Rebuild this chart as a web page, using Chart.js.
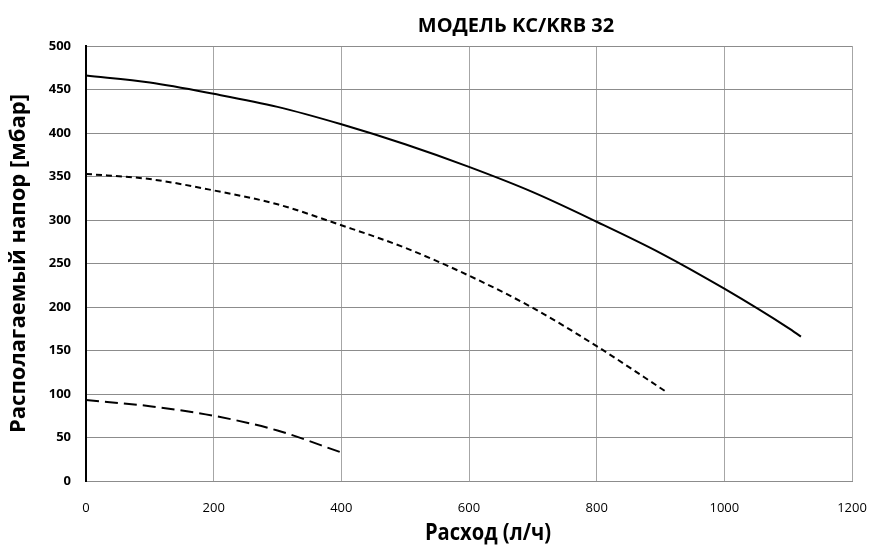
<!DOCTYPE html>
<html><head><meta charset="utf-8">
<script src="https://cdn.jsdelivr.net/npm/chart.js@4/dist/chart.umd.min.js"></script>
<style>
html,body{margin:0;padding:0;background:#fff;}
#wrap{position:relative;width:875px;height:548px;}
#ttl{position:absolute;left:0;width:1032px;top:11px;text-align:center;font:bold 20px "Open Sans",sans-serif;color:#000;}
#xt{position:absolute;left:388px;width:200px;top:514px;line-height:26px;text-align:center;font:bold 24px "Open Sans",sans-serif;color:#000;transform:scaleX(0.84);transform-origin:center;}
canvas{position:absolute;left:0;top:0;}
</style></head>
<body><div id="wrap"><canvas id="c" width="875" height="548"></canvas><div id="ttl"></div><div id="xt"></div></div>
<script>
const titleText = "МОДЕЛЬ KC/KRB 32";
const xTitle = "Расход (л/ч)";
const yTitle = "Располагаемый напор [мбар]";
const flowSolid = [0,100,200,300,400,500,600,700,800,900,1000,1100,1120];
const headSolid = [466,458,445,430,410,387,361,332,298,262,221,176,166];
const flowShort = [0,100,200,300,400,500,600,700,800,910];
const headShort = [353,347,334,318,294,268,236,199,155,102];
const flowLong = [0,100,200,300,403];
const headLong = [93,86,75,58,32];
const xTicks = [0,200,400,600,800,1000,1200];
const yTicks = [0,50,100,150,200,250,300,350,400,450,500];

document.getElementById('ttl').textContent = titleText;
document.getElementById('xt').textContent = xTitle;
const pts = (xs, ys) => xs.map((x,i)=>({x:x,y:ys[i]}));
const base = {showLine:true,pointRadius:0,borderColor:'#000',borderWidth:2,fill:false,cubicInterpolationMode:'monotone'};
new Chart(document.getElementById('c'),{
  type:'scatter',
  data:{datasets:[
    Object.assign({label:'solid',data:pts(flowSolid,headSolid)},base),
    Object.assign({label:'short',data:pts(flowShort,headShort),borderDash:[6,4]},base),
    Object.assign({label:'long',data:pts(flowLong,headLong),borderDash:[13,6]},base)
  ]},
  options:{
    responsive:false,animation:false,
    layout:{padding:{top:46,right:23,left:0,bottom:0}},
    plugins:{legend:{display:false},tooltip:{enabled:false},title:{display:false,text:titleText}},
    scales:{
      x:{type:'linear',min:0,max:1200,
        afterBuildTicks:(a)=>{a.ticks=xTicks.map(v=>({value:v}));},
        afterFit:(a)=>{a.height=67;a.paddingRight=0;a.paddingLeft=0;},
        grid:{color:'#a6a6a6',lineWidth:1,drawTicks:false},
        border:{color:'#8c8c8c',width:1},
        ticks:{color:'#000',padding:19,font:{family:'"Open Sans"',size:13},callback:(v)=>String(v)},
        title:{display:false,text:xTitle}
      },
      y:{min:0,max:500,
        afterBuildTicks:(a)=>{a.ticks=yTicks.map(v=>({value:v}));},
        afterFit:(a)=>{a.width=86;a.paddingTop=0;a.paddingBottom=0;},
        grid:{color:'#8c8c8c',lineWidth:1,drawTicks:false},
        border:{color:'#000',width:2},
        ticks:{color:'#000',padding:15,font:{family:'"Open Sans"',size:13,weight:'bold'},callback:(v)=>String(v)},
        title:{display:true,text:yTitle,color:'#000',font:{family:'"Open Sans"',size:22,weight:'bold'},padding:{top:6,bottom:0}}
      }
    }
  }
});
</script></body></html>
